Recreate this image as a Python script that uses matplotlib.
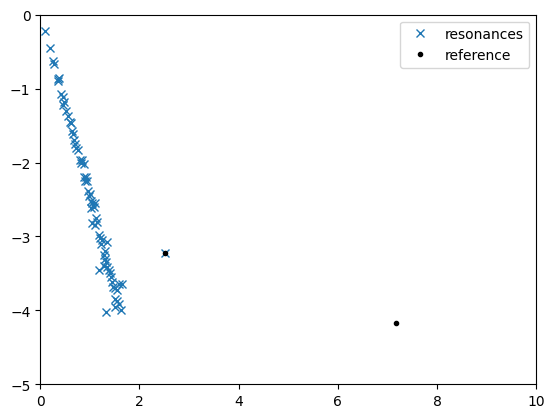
import numpy as np
import matplotlib
matplotlib.use("Agg")
import matplotlib.pyplot as plt

res_re = np.array([0.10, 0.20, 0.25, 0.27, 0.35, 0.36, 0.38, 0.42, 0.45, 0.47, 0.46, 0.52,
                   0.55, 0.60, 0.62, 0.64, 0.66, 0.68, 0.70, 0.73, 0.76, 0.80, 0.82, 0.85,
                   0.88, 0.88, 0.90, 0.92, 0.95, 0.97, 1.00, 0.98, 1.02, 1.05, 1.08, 1.10,
                   1.03, 1.05, 1.10, 1.12, 1.15, 1.18, 1.20, 1.25, 1.22, 1.30, 1.35, 1.28,
                   1.30, 1.33, 1.28, 1.18, 1.35, 1.38, 1.40, 1.42, 1.45, 1.47, 1.50, 1.55,
                   1.58, 1.65, 1.50, 1.55, 1.58, 1.50, 1.32, 1.62, 2.52])
res_im = np.array([-0.22, -0.45, -0.63, -0.67, -0.87, -0.90, -0.85, -1.07, -1.12, -1.18, -1.22, -1.30,
                   -1.37, -1.45, -1.47, -1.58, -1.62, -1.70, -1.75, -1.80, -1.83, -1.97, -2.00, -1.97,
                   -2.02, -2.20, -2.25, -2.20, -2.25, -2.38, -2.42, -2.45, -2.52, -2.55, -2.60, -2.55,
                   -2.62, -2.82, -2.85, -2.75, -2.80, -2.98, -3.02, -3.05, -3.10, -3.20, -3.08, -3.25,
                   -3.30, -3.35, -3.40, -3.45, -3.42, -3.45, -3.50, -3.55, -3.62, -3.68, -3.70, -3.72,
                   -3.65, -3.65, -3.85, -3.88, -3.92, -3.95, -4.02, -4.00, -3.22])

ref_re = np.array([2.52, 7.18])
ref_im = np.array([-3.22, -4.17])

fig, ax = plt.subplots(figsize=(6.4, 4.8), dpi=100)
ax.plot(res_re, res_im, 'x', label='resonances')
ax.plot(ref_re, ref_im, 'k.', label='reference')
ax.set_xlim(0, 10)
ax.set_ylim(-5, 0)
ax.legend()
fig.savefig('out.png', bbox_inches='tight')
